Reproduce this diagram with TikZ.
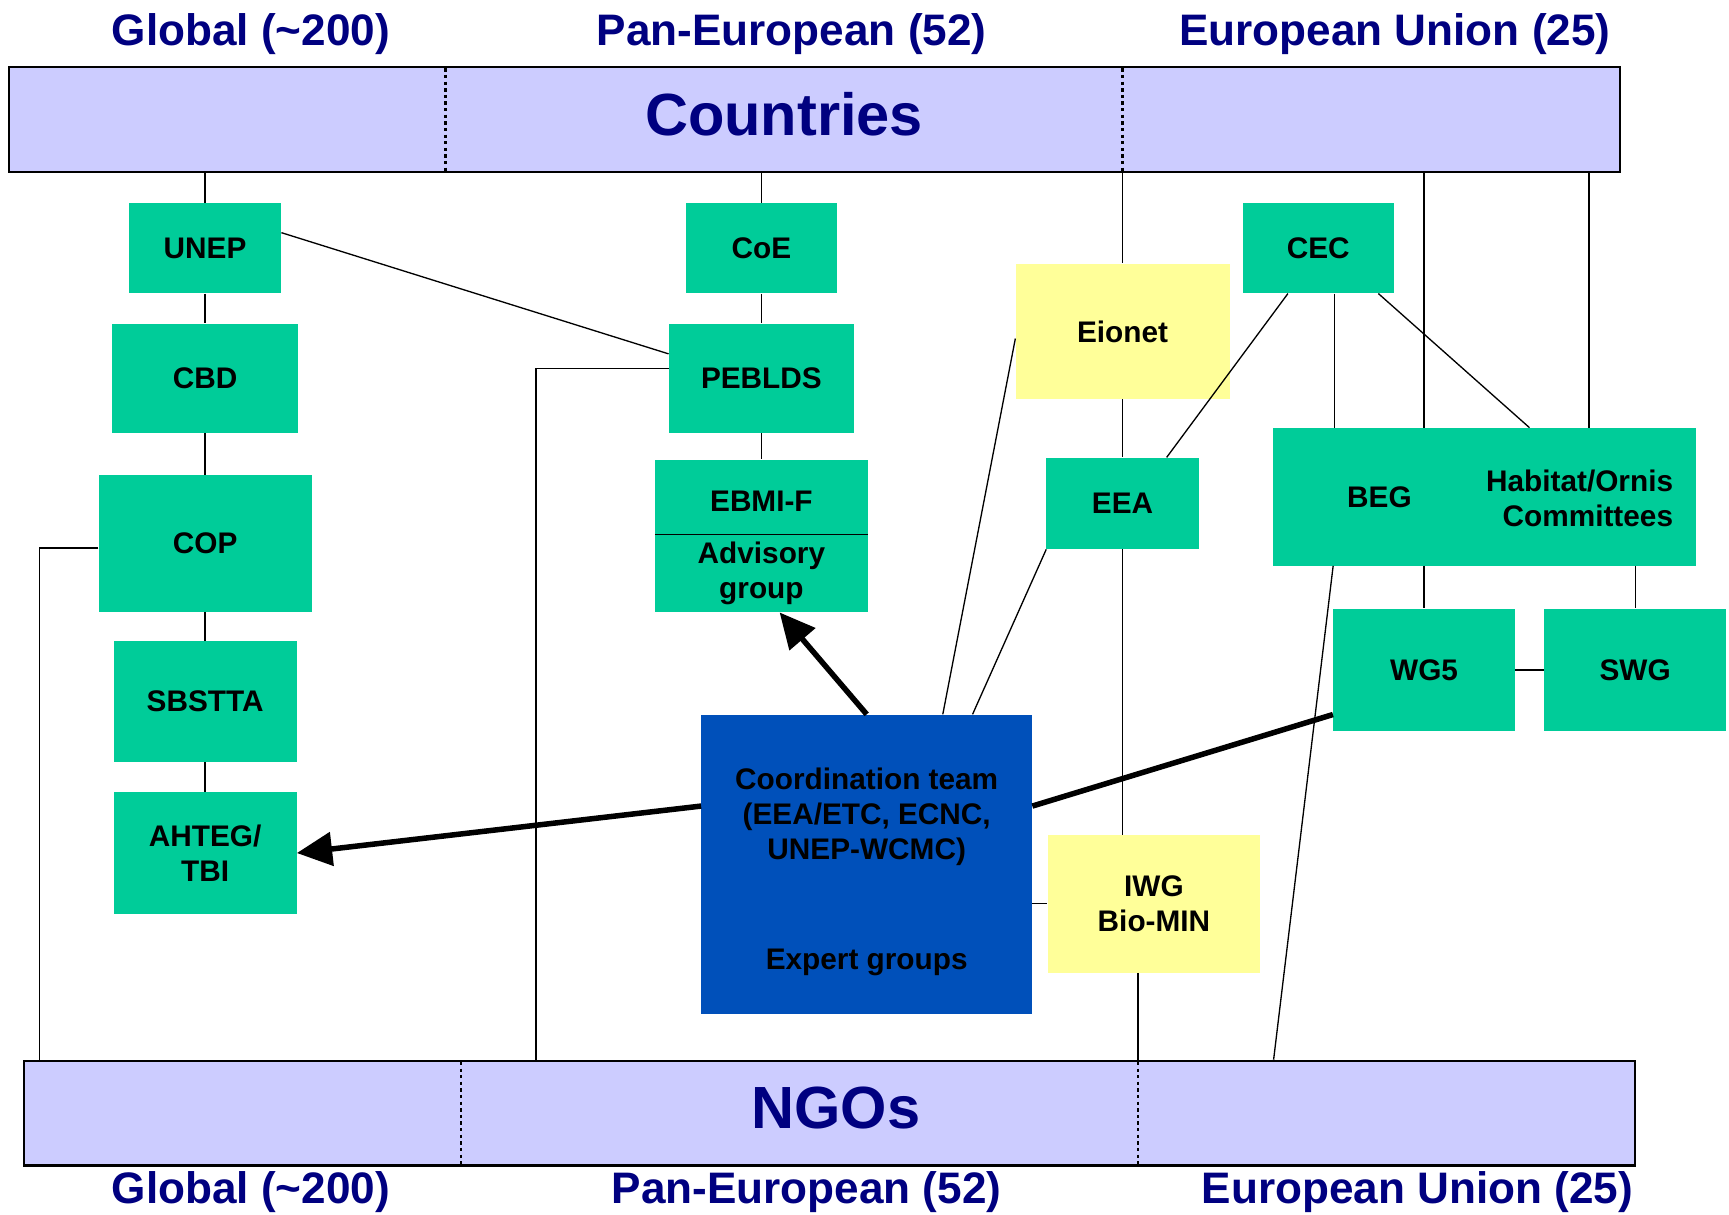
\documentclass[tikz,border=0pt]{standalone}
\usepackage{fontspec}
\setmainfont{Liberation Sans}
\usepackage{tikz}
\usetikzlibrary{arrows.meta, positioning}
\definecolor{orggreen}{RGB}{0,204,153}
\definecolor{netyellow}{RGB}{255,255,153}
\definecolor{bandblue}{RGB}{204,204,255}
\definecolor{teamblue}{RGB}{0,80,186}
\definecolor{headnavy}{RGB}{0,0,128}
\tikzset{
    orgbox/.style={rectangle, fill=orggreen, inner sep=0pt, align=center, font=\fontsize{27}{32}\selectfont\bfseries},
    netbox/.style={rectangle, fill=netyellow, inner sep=0pt, align=center, font=\fontsize{27}{32}\selectfont\bfseries},
    boxtext/.style={inner sep=0pt, align=center, font=\fontsize{27}{32}\selectfont\bfseries},
    band/.style={rectangle, draw, line width=2pt, fill=bandblue, inner sep=0pt, minimum width=1461pt, minimum height=95pt},
    bandtext/.style={text=headnavy, font=\fontsize{54}{60}\selectfont\bfseries},
    header/.style={text=headnavy, font=\fontsize{40}{44}\selectfont\bfseries},
    divider/.style={line width=2.5pt, dash pattern=on 3pt off 3pt},
    link/.style={line width=1.2pt},
    bigarrow/.style={line width=5pt, -{Triangle[length=32pt, width=30pt]}},
    bigline/.style={line width=5pt}
}

\begin{document}
\begin{tikzpicture}[x=1pt, y=-1pt, node distance=27pt]
    \useasboundingbox (0,0) rectangle (1568,1101);

    % Bands
    \node (countries) [band] at (738.5,108.5) {};
    \node (countriesText) [bandtext] at (711,104) {Countries};
    \node (ngos) [band] at (752.5,1009.5) {};
    \node (ngosText) [bandtext] at (758,1005) {NGOs};
    \foreach \xpos in {404,1018} \draw [divider] (\xpos,62) -- (\xpos,155);
    \foreach \xpos in {418,1032} \draw [divider] (\xpos,963) -- (\xpos,1056);

    % Levels
    \node (globalTop) [header] at (227.5,31) {Global (\textasciitilde200)};
    \node (panTop) [header] at (718,31) {Pan-European (52)};
    \node (euTop) [header] at (1265,31) {European Union (25)};
    \node (globalBottom) [header] at (227.5,1081) {Global (\textasciitilde200)};
    \node (panBottom) [header] at (731.5,1081) {Pan-European (52)};
    \node (euBottom) [header] at (1285.5,1081) {European Union (25)};

    % Global bodies
    \node (unep) [orgbox, minimum width=138pt, minimum height=82pt] at (186,225) {UNEP};
    \node (cbd) [orgbox, below=27pt of unep, minimum width=168pt, minimum height=99pt] {CBD};
    \node (cop) [orgbox, below=38pt of cbd, minimum width=193pt, minimum height=124pt] {COP};
    \node (sbstta) [orgbox, below=26pt of cop, minimum width=166pt, minimum height=110pt] {SBSTTA};
    \node (ahteg) [orgbox, below=27pt of sbstta, minimum width=166pt, minimum height=110pt] {AHTEG/\\TBI};

    % Pan-European bodies
    \node (coe) [orgbox, minimum width=137pt, minimum height=82pt] at (690.5,225) {CoE};
    \node (peblds) [orgbox, below=27pt of coe, minimum width=168pt, minimum height=99pt] {PEBLDS};
    \node (ebmi) [orgbox, below=24pt of peblds, minimum width=193pt, minimum height=68pt, text height=27pt] {EBMI-F};
    \node (advisory) [orgbox, below=0pt of ebmi, minimum width=193pt, minimum height=70pt] {Advisory\\group};

    % EU bodies
    \node (eionet) [netbox, minimum width=194pt, minimum height=123pt] at (1018,300.5) {Eionet};
    \node (eea) [orgbox, minimum width=138pt, minimum height=83pt] at (1018,456.5) {EEA};
    \node (cec) [orgbox, minimum width=137pt, minimum height=82pt] at (1195.5,225) {CEC};
    \node (begCom) [orgbox, minimum width=384pt, minimum height=125pt] at (1346,450.5) {};
    \node (beg) [boxtext] at (1251,451) {BEG};
    \node (habitat) [boxtext, align=right] at (1432.5,452) {Habitat/Ornis\\Committees};
    \node (wgFive) [orgbox, minimum width=165pt, minimum height=111pt] at (1291.5,607.5) {WG5};
    \node (swg) [orgbox, right=26pt of wgFive, minimum width=165pt, minimum height=111pt] {SWG};

    % Coordination
    \node (coordTeam) [rectangle, fill=teamblue, minimum width=300pt, minimum height=272pt, align=center, font=\fontsize{27}{32}\selectfont\bfseries] at (786,784) {\rule{0pt}{33pt}Coordination team\\(EEA/ETC, ECNC,\\UNEP-WCMC)\\[68pt]Expert groups};
    \node (iwg) [netbox, minimum width=193pt, minimum height=125pt] at (1046.5,819.5) {IWG\\Bio-MIN};

    % Global links
    \draw [link] (countries.south -| unep) -- (unep);
    \draw [link] (unep) -- (cbd);
    \draw [link] (cbd) -- (cop);
    \draw [link] (cop) -- (sbstta);
    \draw [link] (sbstta) -- (ahteg);
    \draw [link] ([yshift=14pt]unep.east) -- ([yshift=22pt]peblds.west);
    \coordinate (copKink) at (36,497);
    \draw [link] (cop.west |- copKink) -- (copKink) -- (copKink |- ngos.north);

    % Pan-European links
    \draw [link] (countries.south -| coe) -- (coe);
    \draw [link] (coe) -- (peblds);
    \draw [link] (peblds) -- (ebmi);
    \draw [link] (ebmi.south west) -- (ebmi.south east);
    \coordinate (pebKink) at (486,334);
    \draw [link] (peblds.west |- pebKink) -- (pebKink) -- (pebKink |- ngos.north);

    % EU links
    \draw [link] (countries.south -| eionet) -- (eionet);
    \draw [link] (eionet) -- (eea);
    \draw [link] (eea.south) -- (eea.south |- iwg.north);
    \coordinate (iwgFoot) at (1032,962);
    \draw [link] (iwg.south -| iwgFoot) -- (iwgFoot);
    \draw [link] ([xshift=-27.5pt]cec.south) -- ([xshift=40pt]eea.north);
    \draw [link] ([xshift=14.5pt]cec.south) -- ([xshift=14.5pt]cec.south |- begCom.north);
    \draw [link] ([xshift=54.5pt]cec.south) -- ([xshift=41pt]begCom.north);
    \draw [link] (countries.south -| wgFive) -- (begCom.north -| wgFive);
    \coordinate (habTop) at ([xshift=95pt]begCom.north);
    \draw [link] (countries.south -| habTop) -- (habTop);
    \draw [link] (begCom.south -| wgFive) -- (wgFive);
    \draw [link] (begCom.south -| swg) -- (swg);
    \draw [link] (wgFive) -- (swg);
    \draw [link] ([xshift=-137pt]begCom.south) -- ([xshift=402.5pt]ngos.north);

    % Coordination links
    \draw [link] ([xshift=69pt]coordTeam.north) -- ([yshift=-6.5pt]eionet.west);
    \draw [link] ([xshift=96pt]coordTeam.north) -- (eea.south west);
    \draw [link] (coordTeam.east |- iwg.west) -- (iwg.west);
    \draw [bigarrow] (coordTeam.north) -- ([xshift=16.5pt]advisory.south);
    \draw [bigarrow] ([yshift=53pt]coordTeam.west) -- (ahteg.east);
    \draw [bigline] ([yshift=53pt]coordTeam.east) -- ([yshift=-40.5pt]wgFive.west);

\end{tikzpicture}
\end{document}
